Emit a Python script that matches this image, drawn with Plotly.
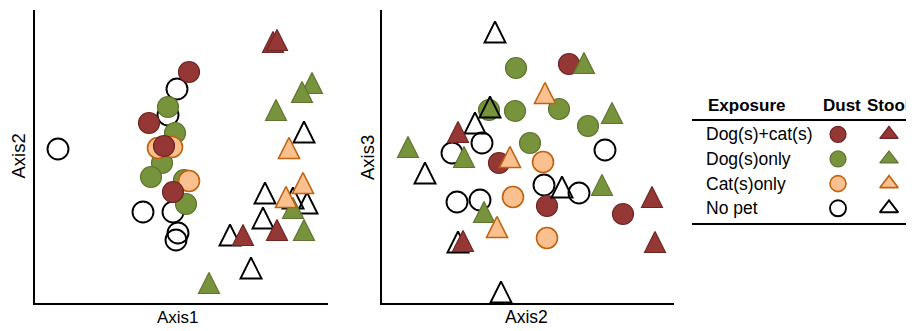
import plotly.graph_objects as go

# ---------------- data ----------------
groups = ["Dog(s)+cat(s)", "Dog(s)only", "Cat(s)only", "No pet"]
sample_types = ["Dust", "Stool"]

# Panel 1: Axis1 (x) vs Axis2 (y)
p1_dust_x = {"Dog(s)+cat(s)": [154, 114, 129, 138],
             "Dog(s)only": [133, 140, 127, 116, 149, 151],
             "Cat(s)only": [123, 137, 154],
             "No pet": [23, 142, 133, 108, 138, 143, 141]}
p1_dust_y = {"Dog(s)+cat(s)": [231, 180, 157, 111],
             "Dog(s)only": [196, 170, 140, 126, 123, 99],
             "Cat(s)only": [155, 156, 122],
             "No pet": [154, 214, 188, 91, 91, 70, 63]}
p1_stool_x = {"Dog(s)+cat(s)": [238, 242, 208, 242],
              "Dog(s)only": [277, 267, 241, 258, 269, 174],
              "Cat(s)only": [254, 268, 251],
              "No pet": [269, 230, 258, 272, 228, 195, 216]}
p1_stool_y = {"Dog(s)+cat(s)": [261, 263, 68, 73],
              "Dog(s)only": [220, 211, 193, 95, 73, 20],
              "Cat(s)only": [155, 120, 106],
              "No pet": [171, 110, 105, 100, 85, 68, 35]}

# Panel 2: Axis2 (x) vs Axis3 (y)
p2_dust_x = {"Dog(s)+cat(s)": [187, 117, 165, 241],
             "Dog(s)only": [134, 107, 133, 177, 206, 148],
             "Cat(s)only": [161, 131, 165],
             "No pet": [100, 70, 223, 162, 197, 75, 98]}
p2_dust_y = {"Dog(s)+cat(s)": [239, 140, 97, 89],
             "Dog(s)only": [235, 193, 192, 194, 177, 160],
             "Cat(s)only": [141, 106, 65],
             "No pet": [160, 150, 153, 118, 110, 101, 103]}
p2_stool_x = {"Dog(s)+cat(s)": [76, 270, 81, 273],
              "Dog(s)only": [202, 230, 26, 82, 220, 102],
              "Cat(s)only": [163, 128, 115],
              "No pet": [113, 108, 93, 43, 180, 76, 119]}
p2_stool_y = {"Dog(s)+cat(s)": [171, 106, 62, 61],
              "Dog(s)only": [240, 190, 156, 146, 118, 91],
              "Cat(s)only": [210, 146, 76],
              "No pet": [271, 196, 180, 130, 116, 61, 11]}

# ---------------- styles ----------------
fill = {"Dog(s)+cat(s)": "#953735", "Dog(s)only": "#77933C",
        "Cat(s)only": "#FAC090", "No pet": "rgba(255,255,255,0)"}
edge = {"Dog(s)+cat(s)": "#6E2624", "Dog(s)only": "#5E7430",
        "Cat(s)only": "#C0620E", "No pet": "#000000"}
edge_w = {"Dog(s)+cat(s)": 1.2, "Dog(s)only": 1.2, "Cat(s)only": 1.6, "No pet": 1.9}
draw_order = ["No pet", "Dog(s)only", "Cat(s)only", "Dog(s)+cat(s)"]
FONT = "Liberation Sans, Arial, sans-serif"

# the page body has an 8px margin: size the figure so it fills the window exactly
OFF = 8
W, H = 914 - OFF, 331 - OFF
px = lambda v: (v - OFF) / W          # window pixel -> paper x
py = lambda v: 1 - (v - OFF) / H      # window pixel -> paper y

MK = 21                # marker size in the panels
TRI_SHIFT = MK / 2     # "arrow-up" is anchored at its apex -> centre it with a shifted twin axis

fig = go.Figure()


def add_points(xs, ys, symbol, size, xa, ya):
    for g in draw_order:
        fig.add_trace(go.Scatter(
            x=xs[g], y=ys[g], mode="markers", xaxis=xa, yaxis=ya,
            showlegend=False, hoverinfo="skip",
            marker=dict(symbol=symbol, size=size, color=fill[g],
                        line=dict(color=edge[g], width=edge_w[g]))))


add_points(p1_dust_x, p1_dust_y, "circle", MK, "x", "y")
add_points(p2_dust_x, p2_dust_y, "circle", MK, "x2", "y2")
add_points(p1_stool_x, p1_stool_y, "arrow-up", MK, "x", "y4")
add_points(p2_stool_x, p2_stool_y, "arrow-up", MK, "x2", "y5")

# legend table drawn on its own categorical axes
for g in draw_order:
    fig.add_trace(go.Scatter(
        x=["Dust"], y=[g], mode="markers", xaxis="x3", yaxis="y3",
        showlegend=False, hoverinfo="skip",
        marker=dict(symbol="circle", size=16, color=fill[g],
                    line=dict(color=edge[g], width=edge_w[g]))))
    fig.add_trace(go.Scatter(
        x=["Stool"], y=[g], mode="markers", xaxis="x3", yaxis="y3",
        showlegend=False, hoverinfo="skip",
        marker=dict(symbol="triangle-up", size=16, color=fill[g],
                    line=dict(color=edge[g], width=edge_w[g]))))

axis_common = dict(showgrid=False, zeroline=False, showticklabels=False,
                   ticks="", showline=True, linecolor="black", linewidth=2,
                   fixedrange=True)
hidden = dict(visible=False, fixedrange=True, showgrid=False, zeroline=False)

ROW = 24.67                      # legend row pitch (px)
top0 = -(134.3 - OFF) / ROW      # legend y-range so that first row sits at y=134
leg_rng = [top0 + H / ROW, top0]

fig.update_layout(
    width=W, height=H, margin=dict(l=0, r=0, t=0, b=0),
    paper_bgcolor="white", plot_bgcolor="white",
    font=dict(family=FONT, color="black", size=17),
    xaxis=dict(domain=[px(35), px(328)], range=[0, 293], anchor="y", **axis_common),
    yaxis=dict(domain=[py(303), py(10)], range=[0, 293], anchor="x", **axis_common),
    yaxis4=dict(domain=[py(303), py(10)], range=[-TRI_SHIFT, 293 - TRI_SHIFT],
                anchor="x", overlaying="y", **hidden),
    xaxis2=dict(domain=[px(382), px(674)], range=[0, 292], anchor="y2", **axis_common),
    yaxis2=dict(domain=[py(303), py(10)], range=[0, 293], anchor="x2", **axis_common),
    yaxis5=dict(domain=[py(303), py(10)], range=[-TRI_SHIFT, 293 - TRI_SHIFT],
                anchor="x2", overlaying="y2", **hidden),
    xaxis3=dict(domain=[px(692), 1], range=[-2.863, 1.49], type="category",
                categoryorder="array", categoryarray=sample_types,
                anchor="y3", **hidden),
    yaxis3=dict(domain=[0, 1], range=leg_rng, type="category",
                categoryorder="array", categoryarray=groups,
                anchor="x3", **hidden),
)

ann = []
# axis titles
ann.append(dict(text="Axis1", xref="paper", yref="paper", x=px(178), y=py(317),
                xanchor="center", yanchor="middle", showarrow=False, font=dict(size=17)))
ann.append(dict(text="Axis2", xref="paper", yref="paper", x=px(18), y=py(156.5),
                xanchor="center", yanchor="middle", showarrow=False, textangle=-90,
                font=dict(size=18.5)))
ann.append(dict(text="Axis2", xref="paper", yref="paper", x=px(526), y=py(317),
                xanchor="center", yanchor="middle", showarrow=False, font=dict(size=17.5)))
ann.append(dict(text="Axis3", xref="paper", yref="paper", x=px(367.5), y=py(157.5),
                xanchor="center", yanchor="middle", showarrow=False, textangle=-90,
                font=dict(size=18.5)))
# legend header
ann.append(dict(text="<b>Exposure</b>", xref="paper", yref="paper", x=px(706), y=py(106),
                xanchor="left", yanchor="middle", showarrow=False, font=dict(size=17)))
for t, cx in zip(sample_types, [841.5, 888]):
    ann.append(dict(text="<b>%s</b>" % t, xref="paper", yref="paper", x=px(cx), y=py(105),
                    xanchor="center", yanchor="middle", showarrow=False, font=dict(size=17)))
for g in groups:
    ann.append(dict(text=g, xref="paper", yref="y3", x=px(704), y=g,
                    xanchor="left", yanchor="middle", showarrow=False, font=dict(size=17.5)))
fig.update_layout(annotations=ann)

fig.update_layout(shapes=[
    dict(type="line", xref="paper", yref="paper", x0=px(692), x1=1, y0=py(120), y1=py(120),
         line=dict(color="black", width=2)),
    dict(type="line", xref="paper", yref="paper", x0=px(692), x1=1, y0=py(224), y1=py(224),
         line=dict(color="black", width=2)),
])

fig.write_html("out.html")
